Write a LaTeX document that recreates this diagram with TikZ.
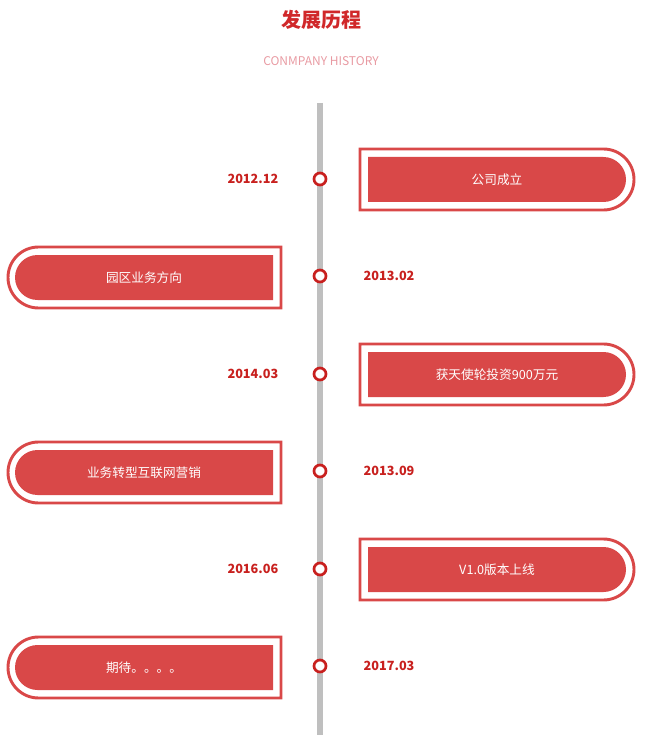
\documentclass[tikz,border=0pt]{standalone}
\usepackage{fontspec}
\setmainfont{Noto Sans CJK SC}
\definecolor{boxred}{HTML}{D94848}
\definecolor{datered}{HTML}{C8201E}
\definecolor{titlered}{HTML}{D0282A}
\definecolor{subpink}{HTML}{E89AA2}
\definecolor{linegray}{HTML}{BFBFBF}
\begin{document}
\begin{tikzpicture}[x=0.75pt,y=-0.75pt,
  datelbl/.style={font=\bfseries\fontsize{9.5}{11}\selectfont,text=datered},
  boxtxt/.style={font=\fontsize{9.5}{11}\selectfont,text=white},
  dot/.style={circle,draw=datered,fill=white,line width=2pt,minimum size=9pt,inner sep=0pt}]
\useasboundingbox (0,0) rectangle (644,745);
\node[font=\bfseries\fontsize{15}{18}\selectfont,text=titlered] (title) at (321,20) {发展历程};
\node[font=\fontsize{9}{11}\selectfont,text=subpink] (sub) at (321,61) {CONMPANY HISTORY};
\draw[linegray,line width=4pt] (320,103) -- (320,735);
\foreach \i/\yy/\dd/\tx/\side in {1/179/2012.12/公司成立/r,2/276/2013.02/园区业务方向/l,3/374/2014.03/获天使轮投资900万元/r,4/471/2013.09/业务转型互联网营销/l,5/569/2016.06/V1.0版本上线/r,6/666/2017.03/期待。。。。/l}{
  \if r\side
    \draw[boxred,line width=2.2pt] (360,\yy-30) [rounded corners=22.9pt] -- (634,\yy-30) -- (634,\yy+31) [sharp corners] -- (360,\yy+31) -- cycle;
    \fill[boxred] (368,\yy-22) [rounded corners=16.9pt] -- (626,\yy-22) -- (626,\yy+23) [sharp corners] -- (368,\yy+23) -- cycle;
    \node[boxtxt] (t\i) at (497,\yy+1) {\tx};
    \node[datelbl,anchor=east] (d\i) at (283,\yy) {\dd};
  \else
    \draw[boxred,line width=2.2pt] (281,\yy-29) [rounded corners=22.9pt] -- (8,\yy-29) -- (8,\yy+32) [sharp corners] -- (281,\yy+32) -- cycle;
    \fill[boxred] (273,\yy-21) [rounded corners=16.9pt] -- (15,\yy-21) -- (15,\yy+24) [sharp corners] -- (273,\yy+24) -- cycle;
    \node[boxtxt] (t\i) at (144,\yy+2) {\tx};
    \node[datelbl,anchor=west] (d\i) at (359,\yy) {\dd};
  \fi
  \node[dot] (c\i) at (320,\yy) {};
}
\end{tikzpicture}
\end{document}
